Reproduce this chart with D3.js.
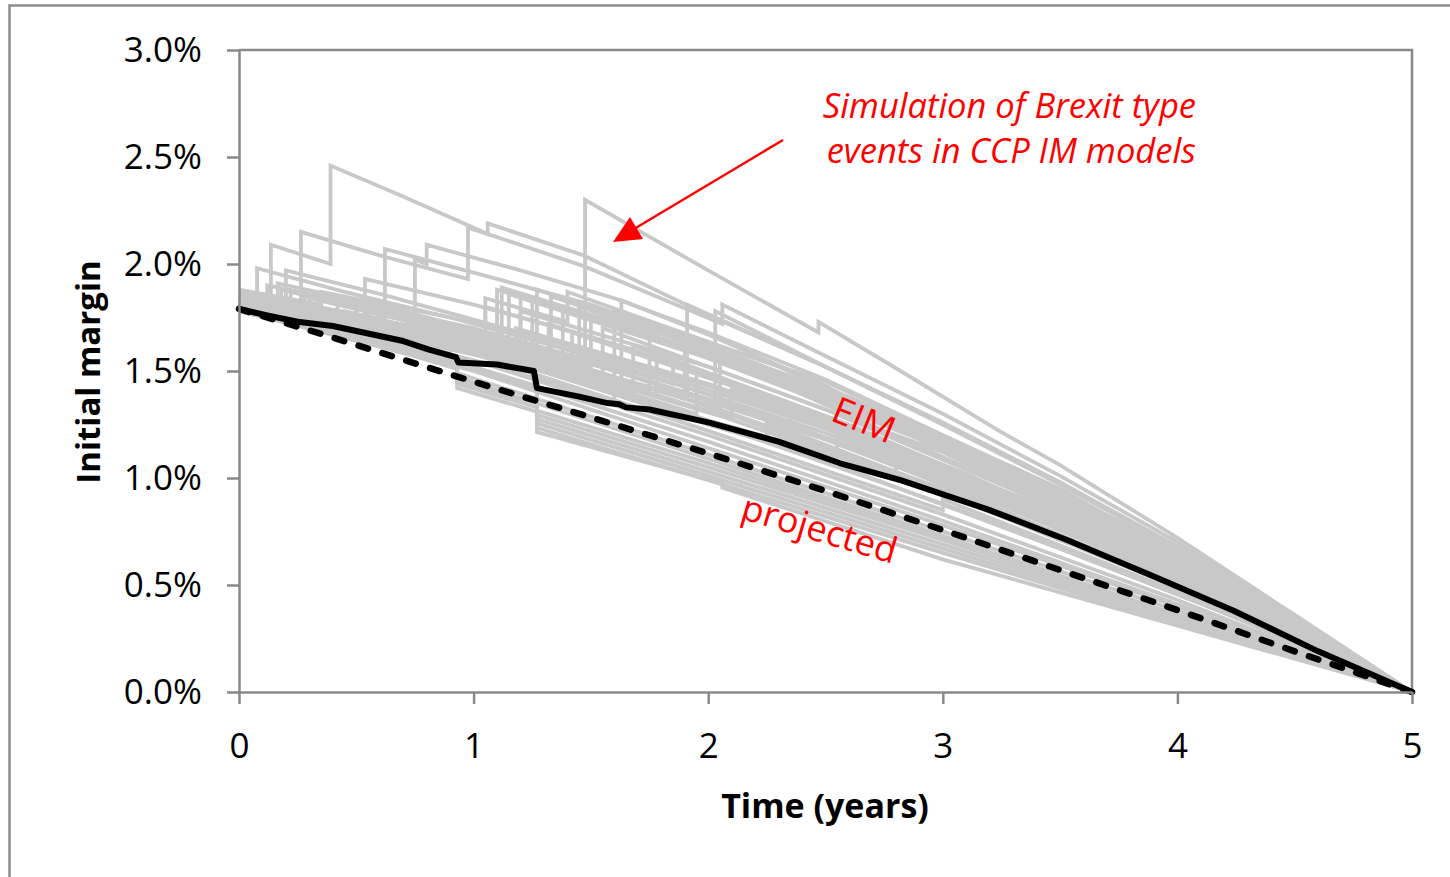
<!DOCTYPE html>
<html>
<head>
<meta charset="utf-8">
<script src="https://cdn.jsdelivr.net/npm/d3@7"></script>
<style>
  body { margin: 0; background: #fff; }
  svg text { font-family: "Open Sans", "Noto Sans", sans-serif; }
</style>
</head>
<body>
<div id="chart"></div>
<script>
// axis ticks
const xTicks = [0, 1, 2, 3, 4, 5];
const yTicks = [0, 0.5, 1.0, 1.5, 2.0, 2.5, 3.0];

// simulated IM paths, [time (years), IM %]
const simPaths = [
  [[0,1.85],[0.136,1.82],[0.136,2.09],[0.39,2.0],[0.39,2.46],[0.69,2.32],[1.06,2.14],[1.47,1.99],[2.06,1.72],[2.06,1.81],[2.5,1.57],[3.0,1.30],[3.5,1.01],[4.0,0.70],[4.5,0.35],[5,0]],
  [[0,1.84],[0.264,1.78],[0.264,2.15],[0.6,2.04],[0.976,1.93],[0.976,2.17],[1.06,2.14],[1.06,2.19],[1.47,2.04],[2.0,1.76],[2.5,1.52],[3.0,1.25],[3.5,0.97],[4.0,0.67],[4.5,0.34],[5,0]],
  [[0,1.82],[0.5,1.72],[1.0,1.61],[1.475,1.50],[1.475,2.30],[2.0,1.97],[2.47,1.68],[2.47,1.73],[2.82,1.50],[3.24,1.22],[3.5,1.06],[4.0,0.72],[4.5,0.36],[5,0]],
  [[0,1.86],[0.077,1.84],[0.077,1.98],[0.45,1.87],[0.9,1.75],[1.5,1.57],[2.0,1.39],[3.0,0.97],[4.0,0.50],[5,0]],
  [[0,1.83],[0.537,1.72],[0.537,1.93],[1.0,1.81],[1.5,1.66],[2.0,1.49],[3.0,1.06],[4.0,0.56],[5,0]],
  [[0,1.87],[0.622,1.74],[0.622,2.07],[1.0,1.96],[1.5,1.81],[2.0,1.62],[2.5,1.40],[3.0,1.15],[4.0,0.61],[5,0]],
  [[0,1.84],[0.75,1.66],[0.75,2.02],[0.8,2.00],[0.8,2.09],[1.2,1.97],[1.6,1.84],[2.0,1.68],[2.5,1.46],[3.0,1.20],[3.5,0.94],[4.0,0.64],[4.5,0.32],[5,0]],
  [[0,1.83],[0.8,1.70],[1.63,1.45],[1.63,1.83],[2.0,1.67],[2.5,1.43],[3.0,1.15],[4.0,0.61],[5,0]],
  [[0,1.82],[1.0,1.64],[1.91,1.38],[1.91,1.81],[2.5,1.52],[3.0,1.26],[3.5,0.98],[4.0,0.68],[4.5,0.34],[5,0]],
  [[0,1.85],[1.0,1.66],[2.03,1.33],[2.03,1.78],[2.5,1.52],[3.0,1.25],[3.5,0.97],[4.0,0.67],[4.5,0.33],[5,0]],
  [[0,1.85],[0.2,1.81],[0.2,1.97],[0.6,1.86],[1.0,1.74],[1.5,1.59],[2.5,1.23],[3.5,0.80],[4.5,0.33],[5,0]],
  [[0,1.84],[0.165,1.81],[0.165,1.91],[0.7,1.78],[1.3,1.60],[2.3,1.27],[3.3,0.86],[4.3,0.38],[5,0]],
  [[0,1.82],[0.6,1.71],[1.12,1.57],[1.12,1.89],[1.6,1.73],[2.5,1.38],[3.5,0.90],[4.5,0.34],[5,0]],
  [[0,1.80],[0.6,1.69],[1.2,1.53],[1.2,1.86],[2.0,1.58],[3.0,1.15],[4.0,0.62],[5,0]],
  [[0,1.83],[0.6,1.72],[1.27,1.53],[1.27,1.88],[2.0,1.62],[3.0,1.19],[4.0,0.65],[5,0]],
  [[0,1.81],[0.7,1.68],[1.33,1.50],[1.33,1.85],[2.2,1.52],[3.2,1.06],[4.2,0.52],[5,0]],
  [[0,1.85],[1.05,1.63],[1.05,1.84],[1.4,1.73],[1.4,1.87],[2.3,1.52],[3.3,1.02],[4.3,0.44],[5,0]],
  [[0,1.82],[0.8,1.69],[1.6,1.44],[1.6,1.78],[2.5,1.45],[3.5,0.95],[4.5,0.33],[5,0]],
  [[0,1.80],[0.9,1.65],[1.75,1.40],[1.75,1.70],[2.6,1.38],[3.6,0.88],[4.6,0.27],[5,0]],
  [[0,1.84],[1.0,1.66],[1.9,1.37],[1.9,1.66],[2.9,1.25],[3.9,0.72],[5,0]],
  [[0,1.81],[1.0,1.63],[2.05,1.29],[2.05,1.60],[3.0,1.18],[4.0,0.64],[5,0]],
  [[0,1.83],[0.7,1.71],[1.45,1.50],[1.45,1.80],[2.2,1.53],[3.3,1.05],[4.4,0.39],[5,0]],
  [[0,1.88],[0.35,1.81],[0.35,1.87],[0.9,1.75],[1.3,1.65],[2.0,1.43],[3.0,1.04],[4.0,0.55],[5,0]],
  [[0,1.86],[0.18,1.83],[0.18,1.88],[0.7,1.77],[1.2,1.64],[1.2,1.78],[2.0,1.52],[3.0,1.12],[4.0,0.59],[5,0]],
  [[0,1.85],[0.5,1.74],[0.5,1.82],[1.1,1.67],[1.1,1.88],[1.6,1.72],[2.5,1.40],[3.0,1.18],[4.0,0.62],[5,0]],
  [[0,1.84],[0.28,1.79],[0.28,1.85],[1.15,1.62],[1.15,1.86],[2.0,1.56],[3.0,1.14],[4.0,0.60],[5,0]],
  [[0,1.83],[0.6,1.70],[0.6,1.77],[1.25,1.60],[1.25,1.84],[2.0,1.58],[2.7,1.28],[3.5,0.88],[4.5,0.32],[5,0]],
  [[0,1.87],[0.42,1.78],[0.42,1.84],[1.05,1.67],[1.05,1.80],[1.8,1.56],[2.8,1.13],[3.8,0.62],[5,0]],
  [[0,1.82],[0.85,1.62],[0.85,1.72],[1.38,1.58],[1.38,1.80],[2.2,1.49],[3.0,1.14],[4.0,0.60],[5,0]],
  [[0,1.86],[0.22,1.81],[0.22,1.87],[0.95,1.68],[1.5,1.52],[1.5,1.76],[2.3,1.44],[3.2,1.00],[4.2,0.47],[5,0]],
  [[0,1.81],[0.65,1.67],[1.18,1.54],[1.18,1.70],[2.0,1.44],[3.0,1.06],[4.0,0.56],[5,0]],
  [[0,1.85],[0.55,1.73],[0.55,1.80],[1.32,1.58],[1.32,1.72],[2.1,1.44],[3.1,1.02],[4.1,0.51],[5,0]],
  [[0,1.80],[0.75,1.64],[1.42,1.47],[1.42,1.68],[2.4,1.32],[3.4,0.88],[4.4,0.36],[5,0]],
  [[0,1.84],[1.0,1.62],[1.55,1.46],[1.55,1.70],[2.5,1.32],[3.5,0.85],[4.5,0.31],[5,0]],
  [[0,1.82],[1.0,1.63],[1.68,1.40],[1.68,1.62],[2.6,1.25],[3.6,0.78],[4.6,0.25],[5,0]],
  [[0,1.83],[1.0,1.64],[1.78,1.38],[1.78,1.58],[2.7,1.17],[3.7,0.70],[5,0]],
  [[0,1.86],[0.12,1.84],[0.12,1.90],[0.62,1.79],[1.0,1.70],[1.85,1.44],[1.85,1.55],[2.8,1.12],[3.8,0.63],[5,0]],
  [[0,1.81],[1.0,1.62],[1.95,1.30],[1.95,1.50],[2.9,1.08],[3.9,0.60],[5,0]],
  [[0,1.84],[1.0,1.65],[2.1,1.28],[2.1,1.42],[3.0,1.04],[4.0,0.55],[5,0]],
  [[0,1.80],[1.0,1.60],[2.0,1.25],[2.35,1.14],[2.35,1.30],[3.3,0.87],[4.3,0.40],[5,0]],
  [[0,1.83],[1.0,1.63],[2.0,1.27],[2.55,1.10],[2.55,1.20],[3.5,0.76],[4.5,0.30],[5,0]],
  [[0,1.82],[1.0,1.61],[2.0,1.25],[2.8,0.99],[2.8,1.06],[3.8,0.59],[5,0]],
  [[0,1.79],[1.0,1.58],[2.0,1.22],[3.0,0.85],[3.0,0.90],[4.0,0.47],[5,0]],
  [[0,1.85],[0.3,1.79],[0.3,1.84],[1.0,1.66],[2.0,1.31],[3.0,0.93],[4.0,0.49],[5,0]],
  [[0,1.81],[0.45,1.72],[0.45,1.78],[1.0,1.64],[1.22,1.58],[1.22,1.66],[2.0,1.39],[3.0,0.99],[4.0,0.52],[5,0]],
  [[0,1.87],[0.8,1.68],[0.8,1.75],[1.6,1.50],[2.5,1.18],[3.5,0.77],[4.5,0.32],[5,0]],
  [[0,1.83],[0.92,1.62],[0.92,1.70],[1.9,1.37],[2.9,0.98],[3.9,0.55],[5,0]],
  [[0,1.80],[1.0,1.59],[1.1,1.56],[1.1,1.64],[2.0,1.34],[3.0,0.95],[4.0,0.50],[5,0]],
  [[0,1.86],[0.68,1.71],[1.45,1.50],[1.45,1.59],[2.5,1.21],[3.5,0.78],[4.5,0.32],[5,0]],
  [[0,1.82],[1.0,1.62],[2.0,1.26],[2.25,1.17],[2.25,1.26],[3.25,0.84],[4.25,0.40],[5,0]],
  [[0,1.80],[1.0,1.55],[2.0,1.20],[3.0,0.83],[4.0,0.43],[5,0]],
  [[0,1.79],[1.0,1.52],[2.0,1.17],[3.0,0.80],[4.0,0.41],[5,0]],
  [[0,1.81],[1.0,1.55],[1.6,1.36],[1.6,1.40],[2.5,1.08],[3.5,0.67],[4.5,0.24],[5,0]],
  [[0,1.78],[1.0,1.50],[2.0,1.14],[3.0,0.78],[4.0,0.40],[5,0]],
  [[0,1.82],[0.9,1.58],[0.9,1.63],[2.0,1.26],[3.0,0.88],[4.0,0.46],[5,0]],
  [[0,1.79],[0.5,1.65],[0.93,1.51],[0.93,1.42],[1.27,1.31],[1.27,1.215],[2.06,0.975],[2.06,0.955],[3.0,0.62],[4.0,0.31],[5,0]],
  [[0,1.80],[0.5,1.66],[0.93,1.52],[0.93,1.44],[1.27,1.33],[1.27,1.235],[2.0,0.99],[3.0,0.65],[4.0,0.32],[5,0]],
  [[0,1.78],[0.5,1.65],[0.93,1.52],[0.93,1.45],[1.27,1.35],[1.27,1.255],[2.0,1.01],[3.0,0.67],[4.0,0.33],[5,0]],
  [[0,1.81],[0.5,1.67],[1.27,1.42],[1.27,1.275],[2.0,1.03],[3.0,0.69],[4.0,0.34],[5,0]],
  [[0,1.80],[0.5,1.67],[1.27,1.41],[1.27,1.295],[2.0,1.05],[3.0,0.71],[4.0,0.35],[5,0]],
  [[0,1.79],[0.5,1.66],[0.93,1.53],[0.93,1.47],[2.0,1.09],[3.0,0.73],[4.0,0.36],[5,0]],
  [[0,1.82],[0.5,1.68],[1.27,1.43],[1.27,1.315],[2.0,1.07],[3.0,0.72],[4.0,0.36],[5,0]],
  [[0,1.80],[0.5,1.67],[0.93,1.54],[0.93,1.49],[2.0,1.11],[3.0,0.75],[4.0,0.38],[5,0]]
];

// expected IM (mean of paths) and projected IM
const eimCurve = [[0,1.79],[0.12,1.76],[0.25,1.73],[0.4,1.71],[0.53,1.68],[0.7,1.64],[0.81,1.60],[0.925,1.565],[0.935,1.54],[1.1,1.53],[1.257,1.50],[1.27,1.42],[1.45,1.38],[1.57,1.35],[1.62,1.345],[1.65,1.33],[1.75,1.32],[2.0,1.26],[2.3,1.17],[2.56,1.07],[2.82,0.99],[3.2,0.85],[3.53,0.71],[3.9,0.54],[4.24,0.38],[4.6,0.19],[5,0]];
const projectedCurve = [[0,1.79],[0.36,1.67],[1.0,1.45],[1.6,1.25],[2.0,1.115],[2.5,0.94],[3.0,0.757],[3.5,0.57],[4.0,0.383],[4.5,0.19],[5,0]];

const noteLines = ['Simulation of Brexit type', 'events in CCP IM models'];

const W = 1450, H = 877;
const plot = {left: 239, right: 1412, top: 50, bottom: 692};
const axisGrey = '#898989';

const svg = d3.select('#chart').append('svg')
    .attr('width', W)
    .attr('height', H);

// outer chart frame (right and bottom edges fall outside the picture)
svg.append('rect')
    .attr('x', 9.5).attr('y', 5.5)
    .attr('width', 1500).attr('height', 900)
    .attr('fill', 'none')
    .attr('stroke', '#8c8c8c')
    .attr('stroke-width', 2.5);

const x = d3.scaleLinear().domain([0, 5]).range([plot.left, plot.right]);
const y = d3.scaleLinear().domain([0, 3]).range([plot.bottom, plot.top]);

const line = d3.line().x(d => x(d[0])).y(d => y(d[1]));

// plot area border (top + right)
svg.append('path')
    .attr('d', `M${plot.left},${plot.top}H${plot.right}V${plot.bottom}`)
    .attr('fill', 'none')
    .attr('stroke', axisGrey)
    .attr('stroke-width', 2.5);

// grey simulated paths
svg.append('g')
    .selectAll('path.sim')
    .data(simPaths)
    .join('path')
    .classed('sim', true)
    .attr('d', line)
    .attr('fill', 'none')
    .attr('stroke', '#c8c8c8')
    .attr('stroke-width', 3.8);

svg.append('path')
    .datum(projectedCurve)
    .attr('d', line)
    .attr('fill', 'none')
    .attr('stroke', '#000')
    .attr('stroke-width', 6.5)
    .attr('stroke-linecap', 'round')
    .attr('stroke-dasharray', '10,15');

svg.append('path')
    .datum(eimCurve)
    .attr('d', line)
    .attr('fill', 'none')
    .attr('stroke', '#000')
    .attr('stroke-width', 6)
    .attr('stroke-linejoin', 'round');

// axes
const yAxis = d3.axisLeft(y)
    .tickValues(yTicks)
    .tickFormat(d => d.toFixed(1) + '%')
    .tickSize(12)
    .tickSizeOuter(0)
    .tickPadding(25);

const xAxis = d3.axisBottom(x)
    .tickValues(xTicks)
    .tickFormat(d3.format('d'))
    .tickSize(12)
    .tickSizeOuter(0)
    .tickPadding(29);

const gy = svg.append('g')
    .attr('transform', `translate(${plot.left},0)`)
    .call(yAxis);
const gx = svg.append('g')
    .attr('transform', `translate(0,${plot.bottom})`)
    .call(xAxis);

[gx, gy].forEach(g => {
    g.select('.domain').attr('stroke', axisGrey).attr('stroke-width', 2.5);
    g.selectAll('.tick line').attr('stroke', axisGrey).attr('stroke-width', 2.5);
    g.selectAll('.tick text')
        .attr('fill', '#000')
        .style('font-size', '35px')
        .style('font-family', '"Open Sans", sans-serif');
});

// axis titles
svg.append('text')
    .attr('x', 825).attr('y', 818)
    .attr('text-anchor', 'middle')
    .style('font-size', '34px')
    .style('font-weight', 'bold')
    .text('Time (years)');

svg.append('text')
    .attr('transform', 'translate(100,372) rotate(-90)')
    .attr('text-anchor', 'middle')
    .style('font-size', '33px')
    .style('font-weight', 'bold')
    .text('Initial margin');

// annotations
const red = '#ff0000';
svg.append('text')
    .attr('text-anchor', 'end')
    .attr('fill', red)
    .style('font-size', '34.5px')
    .style('font-style', 'italic')
    .selectAll('tspan')
    .data(noteLines)
    .join('tspan')
    .attr('x', 1196)
    .attr('y', (d, i) => 118 + i * 45)
    .text(d => d);

svg.append('line')
    .attr('x1', 783).attr('y1', 140)
    .attr('x2', 634).attr('y2', 229)
    .attr('stroke', red)
    .attr('stroke-width', 2.5);
svg.append('path')
    .attr('d', 'M613,242L630,217L643,239Z')
    .attr('fill', red);

svg.append('text')
    .attr('transform', 'translate(859,432) rotate(22)')
    .attr('text-anchor', 'middle')
    .attr('fill', red)
    .style('font-size', '37px')
    .text('EIM');

svg.append('text')
    .attr('transform', 'translate(816,541) rotate(16.5)')
    .attr('text-anchor', 'middle')
    .attr('fill', red)
    .style('font-size', '36px')
    .text('projected');
</script>
</body>
</html>
